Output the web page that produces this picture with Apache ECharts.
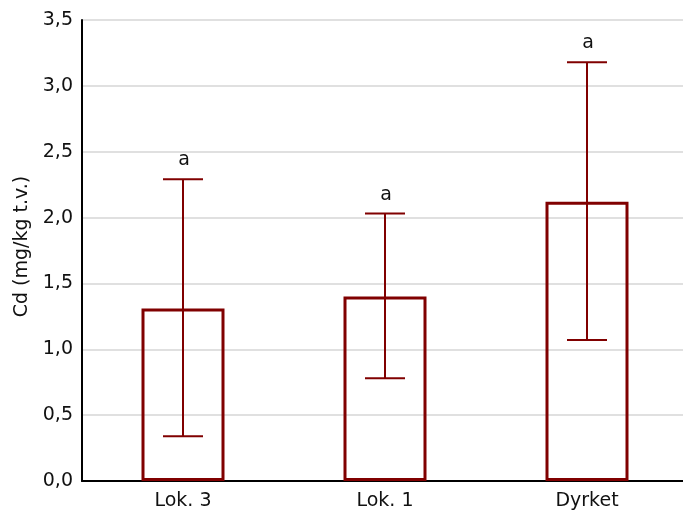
<!DOCTYPE html>
<html>
<head>
<meta charset="utf-8">
<script src="https://cdn.jsdelivr.net/npm/echarts@6/dist/echarts.min.js"></script>
<style>
  html, body { margin: 0; padding: 0; background: #fff; }
  #chart { width: 683px; height: 513px; }
</style>
</head>
<body>
<div id="chart"></div>
<script>
// Cd concentration per site: mean with error range and group letter
const categories = ['Lok. 3', 'Lok. 1', 'Dyrket'];
const means = [1.31, 1.40, 2.12];
const errLower = [0.34, 0.78, 1.07];
const errUpper = [2.29, 2.03, 3.18];
const groupLetters = ['a', 'a', 'a'];

const yTicks = { min: 0, max: 3.5, step: 0.5 };

const darkRed = '#800000';
const font = '"DejaVu Sans", Arial, sans-serif';
const fontSize = 19;

const errorData = categories.map((c, i) => [i, errLower[i], errUpper[i], groupLetters[i]]);

const chart = echarts.init(document.getElementById('chart'), null, { renderer: 'canvas' });

chart.setOption({
  animation: false,
  backgroundColor: '#ffffff',
  grid: { left: 82, width: 606, top: 20, height: 461, containLabel: false, outerBoundsMode: 'none' },
  xAxis: {
    type: 'category',
    data: categories,
    axisLine: { lineStyle: { color: '#000', width: 2 } },
    axisTick: { show: true, alignWithLabel: true, inside: true, length: 3, lineStyle: { color: '#000', width: 1 } },
    axisLabel: { color: '#111', fontSize: fontSize, fontFamily: font, margin: 11 },
    splitLine: { show: false }
  },
  yAxis: {
    type: 'value',
    min: yTicks.min,
    max: yTicks.max,
    interval: yTicks.step,
    name: 'Cd (mg/kg t.v.)',
    nameLocation: 'middle',
    nameGap: 49,
    nameRotate: 90,
    nameTextStyle: { color: '#111', fontSize: fontSize, fontFamily: font, padding: [0, 0, 0, 8] },
    axisLine: { show: true, lineStyle: { color: '#000', width: 2 } },
    axisTick: { show: false },
    axisLabel: {
      color: '#111', fontSize: fontSize, fontFamily: font, margin: 9,
      formatter: v => v.toFixed(1).replace('.', ',')
    },
    splitLine: { show: true, lineStyle: { color: '#d6d6d6', width: 1.5 } }
  },
  series: [
    {
      type: 'bar',
      data: means,
      barWidth: 83,
      itemStyle: { color: 'rgba(255,255,255,0)', borderColor: darkRed, borderWidth: 3 },
      z: 2
    },
    {
      type: 'custom',
      data: errorData,
      z: 3,
      renderItem: function (params, api) {
        const idx = api.value(0);
        const lo = api.coord([idx, api.value(1)]);
        const hi = api.coord([idx, api.value(2)]);
        const half = 20;
        const style = { stroke: darkRed, lineWidth: 2 };
        return {
          type: 'group',
          children: [
            { type: 'line', shape: { x1: hi[0], y1: hi[1], x2: lo[0], y2: lo[1] }, style: style },
            { type: 'line', shape: { x1: hi[0] - half, y1: hi[1], x2: hi[0] + half, y2: hi[1] }, style: style },
            { type: 'line', shape: { x1: lo[0] - half, y1: lo[1], x2: lo[0] + half, y2: lo[1] }, style: style },
            {
              type: 'text',
              style: {
                x: hi[0] + 1, y: hi[1] - 19,
                text: groupLetters[params.dataIndex],
                fill: '#111',
                font: fontSize + 'px ' + font,
                align: 'center',
                verticalAlign: 'middle'
              }
            }
          ]
        };
      }
    }
  ]
});
</script>
</body>
</html>
